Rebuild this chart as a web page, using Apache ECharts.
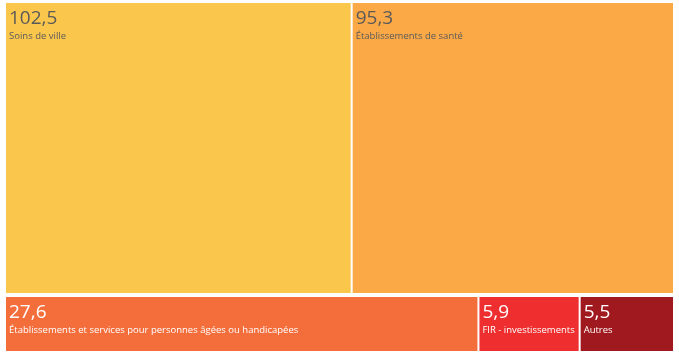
<!DOCTYPE html>
<html>
<head>
<meta charset="utf-8">
<script src="https://cdn.jsdelivr.net/npm/echarts@6/dist/echarts.min.js"></script>
<style>
  html, body { margin: 0; padding: 0; background: #fff; }
  #chart { width: 679px; height: 355px; }
</style>
</head>
<body>
<div id="chart"></div>
<script>
const topNames = ['Soins de ville', 'Établissements de santé'];
const topValues = [102.5, 95.3];
const topColors = ['#FBC64C', '#FBA846'];
const bottomNames = ['Établissements et services pour personnes âgées ou handicapées', 'FIR - investissements', 'Autres'];
const bottomValues = [27.6, 5.9, 5.5];
const bottomColors = ['#F46E3C', '#EF2F2F', '#A0191E'];

const FONT = '"Open Sans", sans-serif';
const fmt = v => v.toFixed(1).replace('.', ',');
const sum = a => a.reduce((s, x) => s + x, 0);

const areaLeft = 4, areaTop = 1, areaW = 671, areaH = 352;
const total = sum(topValues) + sum(bottomValues);
const topH = areaH * sum(topValues) / total;

function makeData(names, values, colors, textColor) {
  return names.map((n, i) => ({
    name: n,
    value: values[i],
    itemStyle: { color: colors[i] },
    label: {
      rich: {
        v: { fontSize: 19, lineHeight: 23, color: textColor, fontFamily: FONT },
        n: { fontSize: 9.5, lineHeight: 12, color: textColor, fontFamily: FONT }
      }
    }
  }));
}

function makeSeries(data, top, height) {
  return {
    type: 'treemap',
    left: areaLeft,
    top: top,
    width: areaW,
    height: height,
    roam: false,
    nodeClick: false,
    breadcrumb: { show: false },
    animation: false,
    itemStyle: { borderWidth: 1, borderColor: 'rgba(255,255,255,0.65)', gapWidth: 0 },
    label: {
      show: true,
      position: 'insideTopLeft',
      distance: 3,
      padding: [1, 0, 0, 0],
      overflow: 'none',
      fontFamily: FONT,
      formatter: p => '{v|' + fmt(p.value) + '}\n{n|' + p.name + '}'
    },
    emphasis: { disabled: true },
    data: data
  };
}

const chart = echarts.init(document.getElementById('chart'), null, { renderer: 'canvas' });
chart.setOption({
  animation: false,
  series: [
    makeSeries(makeData(topNames, topValues, topColors, '#5a5a5a'), areaTop, topH),
    makeSeries(makeData(bottomNames, bottomValues, bottomColors, '#ffffff'), areaTop + topH, areaH - topH)
  ]
});
</script>
</body>
</html>
